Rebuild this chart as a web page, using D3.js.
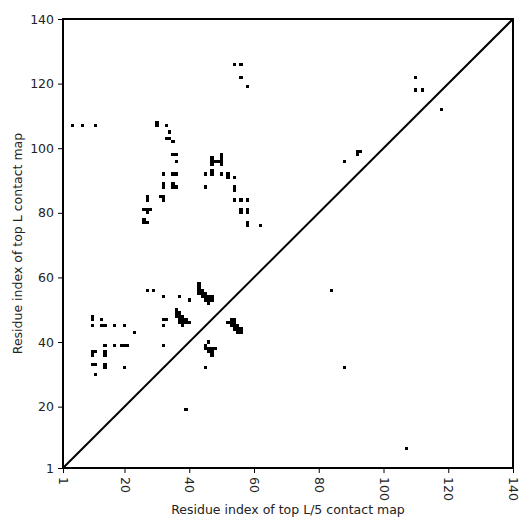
<!DOCTYPE html>
<html>
<head>
<meta charset="utf-8">
<script src="https://cdn.jsdelivr.net/npm/d3@7"></script>
<style>
    body { margin: 0; background: #fff; }
    text { font-family: "DejaVu Sans", sans-serif; }
</style>
</head>
<body>
<div id="contactPlot"></div>
<script>
// contacts: residue index on x (top L/5) and y (top L)
const residueX = [
    4, 7, 11, 30, 30, 33, 34, 33, 34, 35, 35, 36, 36, 32, 35, 36, 32, 32, 35, 35, 36,
    31, 32, 32, 27, 27, 26, 27, 28, 27, 26, 26, 27,
    54, 56, 56, 58,
    47, 47, 47, 48, 49, 50, 50, 50, 50, 47, 47, 45, 50, 52, 52, 54, 45, 54, 54,
    54, 56, 58, 56, 56, 58, 58, 58, 58, 62,
    110, 110, 112, 118, 92, 93, 92, 88, 84, 88, 107,
    27, 29, 32, 37, 40,
    43, 43, 43, 44, 43, 44, 45, 44, 45, 46, 47, 45, 46, 47, 46,
    10, 10, 10, 13, 13, 14, 17, 20, 23, 32, 33, 32,
    36, 36, 37, 36, 37, 38, 37, 38, 39, 37, 38, 39, 40, 38,
    14, 17, 19, 20, 21, 32, 10, 11, 10, 14, 14, 10, 11, 11, 14, 14, 20,
    53, 54, 52, 53, 54, 53, 54, 55, 54, 55, 56, 55, 56,
    46, 45, 45, 46, 47, 48, 46, 47, 47,
    45, 39
];
const residueY = [
    107, 107, 107, 107, 108, 107, 105, 103, 103, 102, 98, 98, 96, 92, 92, 92, 88, 89, 88, 89, 88,
    85, 85, 84, 84, 85, 81, 81, 81, 80, 78, 77, 77,
    126, 126, 122, 119,
    95, 96, 97, 96, 96, 95, 96, 97, 98, 92, 93, 92, 92, 92, 91, 91, 88, 87, 88,
    84, 84, 84, 80, 81, 80, 81, 76, 77, 76,
    122, 118, 118, 112, 99, 99, 98, 96, 56, 32, 7,
    56, 56, 54, 54, 53,
    58, 57, 56, 56, 55, 55, 55, 54, 54, 54, 54, 53, 53, 53, 52,
    47, 48, 45, 47, 45, 45, 45, 45, 43, 47, 47, 45,
    50, 49, 49, 48, 48, 48, 47, 47, 47, 46, 46, 46, 46, 45,
    39, 39, 39, 39, 39, 39, 37, 37, 36, 36, 37, 33, 33, 30, 32, 33, 32,
    47, 47, 46, 46, 46, 45, 45, 45, 44, 44, 44, 43, 43,
    40, 39, 38, 38, 38, 38, 37, 37, 36,
    32, 19
];
const tickValues = [1, 20, 40, 60, 80, 100, 120, 140];
const residueRange = [1, 140];
const xLabel = "Residue index of top L/5 contact map";
const yLabel = "Residue index of top L contact map";

let margin, width, height, svg;

document.addEventListener('DOMContentLoaded', function () {
    margin = { top: 19, right: 19, bottom: 64, left: 63 };
    width = 532 - margin.left - margin.right;
    height = 532 - margin.top - margin.bottom;

    svg = d3.select("#contactPlot")
        .append("svg")
        .attr("width", 532)
        .attr("height", 532)
        .append("g")
        .attr("transform", `translate(${margin.left},${margin.top})`);

    drawContactMap();
});

function drawContactMap() {
    const contacts = residueX.map(function (d, i) { return { x: d, y: residueY[i] }; });

    const x = d3.scaleLinear().domain(residueRange).range([0, width]);
    const y = d3.scaleLinear().domain(residueRange).range([height, 0]);
    const cell = x(2) - x(1);

    svg.selectAll("rect.contact")
        .data(contacts)
        .join("rect")
        .attr("class", "contact")
        .attr("x", function (d) { return x(d.x) - cell / 2; })
        .attr("y", function (d) { return y(d.y) - cell / 2; })
        .attr("width", cell)
        .attr("height", cell)
        .style("shape-rendering", "crispEdges")
        .style("fill", "black");

    // diagonal
    svg.append("line")
        .attr("x1", x(residueRange[0]))
        .attr("y1", y(residueRange[0]))
        .attr("x2", x(residueRange[1]))
        .attr("y2", y(residueRange[1]))
        .style("stroke", "black")
        .style("stroke-width", 2);

    // x axis, labels turned to read downwards
    const gx = svg.append("g")
        .attr("transform", `translate(0,${height})`)
        .call(d3.axisBottom(x).tickValues(tickValues).tickSize(5).tickFormat(d3.format("d")));
    gx.select(".domain").remove();
    gx.selectAll("text")
        .attr("transform", "rotate(90)")
        .attr("x", 9)
        .attr("y", 0)
        .attr("dy", "0.35em")
        .style("text-anchor", "start")
        .style("font-size", "12.5px")
        .style("fill", "#222");

    const gy = svg.append("g")
        .call(d3.axisLeft(y).tickValues(tickValues).tickSize(5).tickPadding(4).tickFormat(d3.format("d")));
    gy.select(".domain").remove();
    gy.selectAll("text")
        .style("font-size", "12.5px")
        .style("fill", "#222");

    // frame
    svg.append("rect")
        .attr("width", width)
        .attr("height", height)
        .style("fill", "none")
        .style("stroke", "black")
        .style("stroke-width", 2);

    svg.append("text")
        .attr("x", width / 2)
        .attr("y", height + 46)
        .style("text-anchor", "middle")
        .style("font-size", "12.5px")
        .style("fill", "#222")
        .text(xLabel);

    svg.append("text")
        .attr("transform", `translate(${-41},${height / 2}) rotate(-90)`)
        .style("text-anchor", "middle")
        .style("font-size", "12.5px")
        .style("fill", "#222")
        .text(yLabel);
}
</script>
</body>
</html>
